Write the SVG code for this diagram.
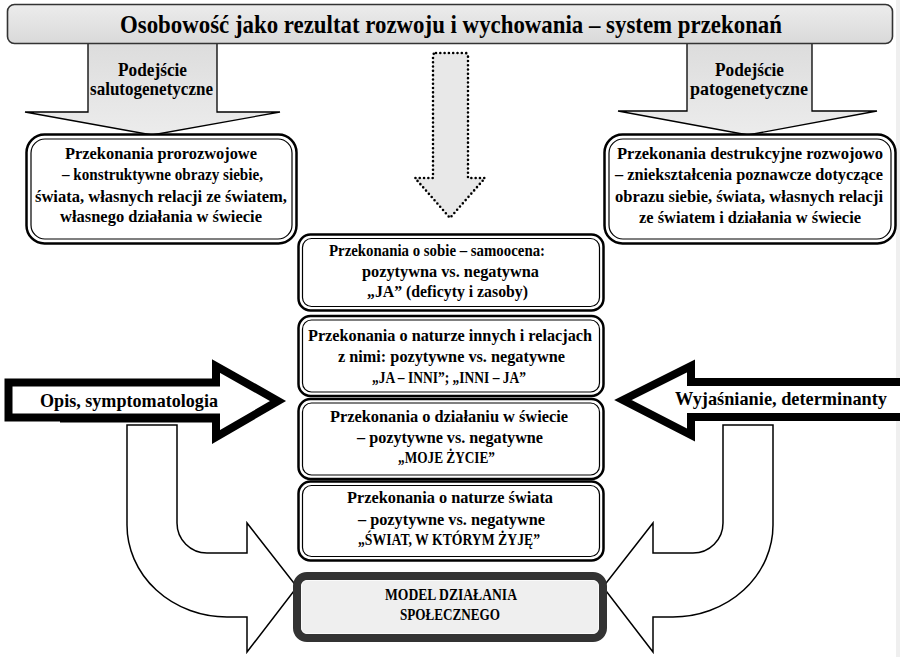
<svg xmlns="http://www.w3.org/2000/svg" width="900" height="657" viewBox="0 0 900 657">
<defs>
<linearGradient id="gTitle" x1="0" y1="0" x2="0" y2="1">
<stop offset="0" stop-color="#ececec"/>
<stop offset="1" stop-color="#d9d9d9"/>
</linearGradient>
<linearGradient id="gArrow" x1="0" y1="0" x2="0" y2="1">
<stop offset="0" stop-color="#dcdcdc"/>
<stop offset="1" stop-color="#ececec"/>
</linearGradient>
<style>
.t{font-family:"Liberation Serif","DejaVu Serif",serif;font-weight:bold;fill:#000}
.b{font-size:16.5px}
.lab{font-size:19px}
.big{font-size:19px}
.outer{fill:#fff;stroke:#000;stroke-width:2.5}
.inner{fill:none;stroke:#000;stroke-width:1.2}
.thin{fill:url(#gArrow);stroke:#000;stroke-width:1.3;stroke-linejoin:miter}
.thick{fill:#fff;stroke:#000;stroke-width:8;stroke-linejoin:miter;stroke-miterlimit:10}
.curve{fill:#fff;stroke:#000;stroke-width:1.5;stroke-linejoin:miter}
</style>
</defs>
<rect x="0" y="0" width="900" height="657" fill="#fff"/>
<rect x="896" y="0" width="4" height="657" fill="#efefef"/>

<g id="connectors">
<g id="arrow-salutogenetyczne">
<path class="thin" d="M88,40 H217 V112 H280 L152,135 L25,112 H88 Z"/>
<text class="t lab" x="118" y="76" textLength="69" lengthAdjust="spacingAndGlyphs">Podejście</text>
<text class="t lab" x="90" y="95" textLength="123" lengthAdjust="spacingAndGlyphs">salutogenetyczne</text>
</g>
<g id="arrow-patogenetyczne">
<path class="thin" d="M687,40 H812 V111 H877 L748,135 L618,111 H687 Z"/>
<text class="t lab" x="715" y="76" textLength="69" lengthAdjust="spacingAndGlyphs">Podejście</text>
<text class="t lab" x="690" y="95" textLength="118" lengthAdjust="spacingAndGlyphs">patogenetyczne</text>
</g>
<g id="arrow-dotted">
<path d="M436,53 H465 Q468,53 468,56 V178 H485 L450,218 L415,178 H433 V56 Q433,53 436,53 Z" fill="#e8e8e8" stroke="#000" stroke-width="2.6" stroke-linecap="round" stroke-dasharray="0 4.3"/>
</g>
<g id="arrow-curve-left">
<path class="curve" d="M127,425 H177 V523 A30,30 0 0 0 207,553 H247 V523 L297,587 L247,652 V617 H227 A100,92 0 0 1 127,525 Z"/>
</g>
<g id="arrow-curve-right">
<path class="curve" d="M773,425 H723 V523 A30,30 0 0 1 693,553 H653 V523 L603,587 L653,652 V617 H673 A100,92 0 0 0 773,525 Z"/>
</g>
<g id="arrow-opis">
<line x1="60" y1="420.5" x2="214" y2="420.5" stroke="#000" stroke-width="4"/>
<polygon class="thick" points="8.5,382.5 216,382.5 216,366 278,401 216,437 216,417.5 8.5,417.5"/>
<text class="t big" x="40" y="407" textLength="178" lengthAdjust="spacingAndGlyphs">Opis, symptomatologia</text>
</g>
<g id="arrow-wyjasnianie">
<polygon class="thick" points="910,382 691,382 691,366 623,400 691,435 691,417 910,417"/>
<text class="t big" x="675" y="405" textLength="212" lengthAdjust="spacingAndGlyphs">Wyjaśnianie, determinanty</text>
</g>
</g>

<g id="title">
<rect x="7.5" y="4.5" width="885" height="39" rx="7" fill="url(#gTitle)" stroke="#333" stroke-width="1.6"/>
<text class="t" x="120" y="33" font-size="26" textLength="662" lengthAdjust="spacingAndGlyphs">Osobowość jako rezultat rozwoju i wychowania – system przekonań</text>
</g>

<g id="box-prorozwojowe">
<rect class="outer" x="26.5" y="134.5" width="270" height="109" rx="18"/>
<rect class="inner" x="31" y="139" width="261" height="100" rx="14"/>
<text class="t b" x="65" y="159" textLength="192" lengthAdjust="spacingAndGlyphs">Przekonania prorozwojowe</text>
<text class="t b" x="62" y="180" textLength="201" lengthAdjust="spacingAndGlyphs">– konstruktywne obrazy siebie,</text>
<text class="t b" x="35" y="202" textLength="252" lengthAdjust="spacingAndGlyphs">świata, własnych relacji ze światem,</text>
<text class="t b" x="60" y="222" textLength="202" lengthAdjust="spacingAndGlyphs">własnego działania w świecie</text>
</g>

<g id="box-destrukcyjne">
<rect class="outer" x="604.5" y="134.5" width="291" height="109" rx="18"/>
<rect class="inner" x="609" y="139" width="282" height="100" rx="14"/>
<text class="t b" x="617" y="159" textLength="266" lengthAdjust="spacingAndGlyphs">Przekonania destrukcyjne rozwojowo</text>
<text class="t b" x="615" y="180" textLength="268" lengthAdjust="spacingAndGlyphs">– zniekształcenia poznawcze dotyczące</text>
<text class="t b" x="615" y="202" textLength="268" lengthAdjust="spacingAndGlyphs">obrazu siebie, świata, własnych relacji</text>
<text class="t b" x="639" y="223" textLength="222" lengthAdjust="spacingAndGlyphs">ze światem i działania w świecie</text>
</g>

<g id="box-o-sobie">
<rect class="outer" x="298.5" y="234.5" width="305" height="76" rx="12"/>
<rect class="inner" x="302.5" y="238.5" width="297" height="68" rx="9"/>
<text class="t b" x="329" y="256" textLength="216" lengthAdjust="spacingAndGlyphs">Przekonania o sobie – samoocena:</text>
<text class="t b" x="362" y="277" textLength="177" lengthAdjust="spacingAndGlyphs">pozytywna vs. negatywna</text>
<text class="t b" x="367" y="297" textLength="161" lengthAdjust="spacingAndGlyphs">„JA” (deficyty i zasoby)</text>
</g>

<g id="box-o-innych">
<rect class="outer" x="298.5" y="316" width="305" height="80" rx="12"/>
<rect class="inner" x="302.5" y="320" width="297" height="72" rx="9"/>
<text class="t b" x="308" y="341" textLength="284" lengthAdjust="spacingAndGlyphs">Przekonania o naturze innych i relacjach</text>
<text class="t b" x="338" y="362" textLength="227" lengthAdjust="spacingAndGlyphs">z nimi: pozytywne vs. negatywne</text>
<text class="t b" x="372" y="383" textLength="154" lengthAdjust="spacingAndGlyphs">„JA – INNI”; „INNI – JA”</text>
</g>

<g id="box-o-dzialaniu">
<rect class="outer" x="298.5" y="399" width="305" height="80" rx="12"/>
<rect class="inner" x="302.5" y="403" width="297" height="72" rx="9"/>
<text class="t b" x="330" y="422" textLength="238" lengthAdjust="spacingAndGlyphs">Przekonania o działaniu w świecie</text>
<text class="t b" x="357" y="443" textLength="186" lengthAdjust="spacingAndGlyphs">– pozytywne vs. negatywne</text>
<text class="t b" x="398" y="463" textLength="97" lengthAdjust="spacingAndGlyphs">„MOJE ŻYCIE”</text>
</g>

<g id="box-o-swiecie">
<rect class="outer" x="298.5" y="481.5" width="305" height="79" rx="12"/>
<rect class="inner" x="302.5" y="485.5" width="297" height="71" rx="9"/>
<text class="t b" x="347" y="503" textLength="206" lengthAdjust="spacingAndGlyphs">Przekonania o naturze świata</text>
<text class="t b" x="358" y="525" textLength="187" lengthAdjust="spacingAndGlyphs">– pozytywne vs. negatywne</text>
<text class="t b" x="358" y="545" textLength="182" lengthAdjust="spacingAndGlyphs">„ŚWIAT, W KTÓRYM ŻYJĘ”</text>
</g>

<g id="box-model">
<rect x="297" y="576" width="306" height="62" rx="10" fill="#efefef" stroke="#333" stroke-width="8"/>
<rect x="301.5" y="580.5" width="297" height="53" rx="6" fill="none" stroke="#fafafa" stroke-width="1"/>
<text class="t" font-size="16.5" x="385" y="600" textLength="132" lengthAdjust="spacingAndGlyphs">MODEL DZIAŁANIA</text>
<text class="t" font-size="16.5" x="400" y="620" textLength="100" lengthAdjust="spacingAndGlyphs">SPOŁECZNEGO</text>
</g>
</svg>
